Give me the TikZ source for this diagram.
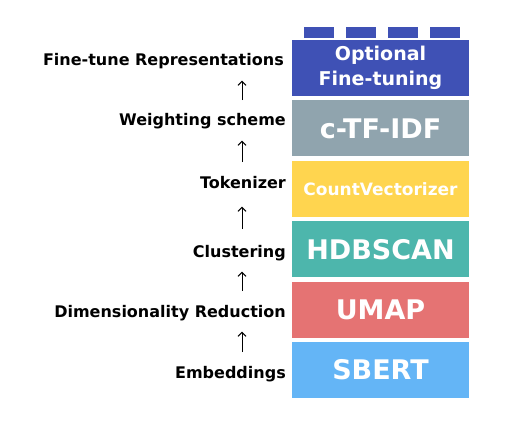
\documentclass[tikz,border=0pt]{standalone}
\usepackage{fontspec}
\setmainfont{DejaVu Sans}
\usetikzlibrary{arrows.meta,positioning}

\definecolor{finetune}{HTML}{3F51B5}
\definecolor{ctfidf}{HTML}{90A4AE}
\definecolor{countvec}{HTML}{FFD54F}
\definecolor{hdbscan}{HTML}{4DB6AC}
\definecolor{umap}{HTML}{E57373}
\definecolor{sbert}{HTML}{64B5F6}

\begin{document}
\begin{tikzpicture}[
    x=1pt, y=1pt,
    node distance=4pt,
    stage/.style={
        minimum width=177pt,
        minimum height=56pt,
        inner sep=0pt,
        align=center,
        text=white,
        font=\bfseries\fontsize{27}{30}\selectfont
    },
    stagelabel/.style={
        anchor=base east,
        inner sep=0pt,
        text height=11.7pt,
        text depth=3.4pt,
        font=\bfseries\fontsize{16}{19}\selectfont
    },
    tab/.style={
        fill=finetune,
        minimum width=30pt,
        minimum height=11pt,
        inner sep=0pt
    },
    up/.style={
        -{Straight Barb[length=4pt,width=8pt]},
        line width=1pt,
        shorten <=14pt,
        shorten >=11pt
    }
]
\useasboundingbox (0,0) rectangle (514,421);

% stack of stages
\node[stage, fill=sbert] (sbertbox) at (380.5,51) {SBERT};
\node[stage, fill=umap, above=of sbertbox] (umapbox) {UMAP};
\node[stage, fill=hdbscan, above=of umapbox] (hdbbox) {HDBSCAN};
\node[stage, fill=countvec, above=of hdbbox,
      font=\bfseries\fontsize{17}{20}\selectfont] (cvbox) {CountVectorizer};
\node[stage, fill=ctfidf, above=of cvbox] (tfidfbox) {c-TF-IDF};
\node[stage, fill=finetune, above=of tfidfbox,
      font=\bfseries\fontsize{19}{25}\selectfont] (ftbox) {Optional\\Fine-tuning};

\foreach \i in {0,...,3}
    \node[tab] (tab\i) at ({319+42*\i},388.5) {};

% labels
\node[stagelabel] (emb) at (286,43) {Embeddings};
\node[stagelabel] (dim) at (286,104) {Dimensionality Reduction};
\node[stagelabel] (clu) at (286,164) {Clustering};
\node[stagelabel] (tok) at (286,233) {Tokenizer};
\node[stagelabel] (wgt) at (286,295) {Weighting scheme};
\node[stagelabel] (fin) at (284,355) {Fine-tune Representations};

\coordinate (arrx) at (242,0);
\draw[up] (emb.north -| arrx) -- (dim.south -| arrx);
\draw[up] (dim.north -| arrx) -- (clu.south -| arrx);
\draw[up, shorten <=16pt, shorten >=15pt] (clu.north -| arrx) -- (tok.south -| arrx);
\draw[up] (tok.north -| arrx) -- (wgt.south -| arrx);
\draw[up] (wgt.north -| arrx) -- (fin.south -| arrx);

\end{tikzpicture}
\end{document}
